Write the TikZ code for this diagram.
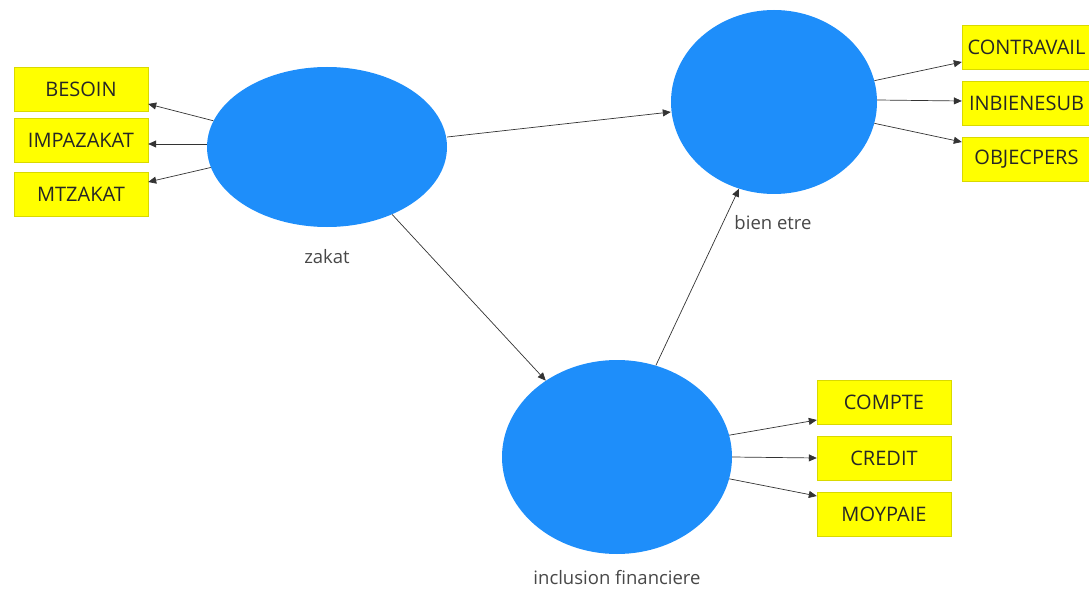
\documentclass[tikz,border=0pt]{standalone}
\usepackage{fontspec}
\setmainfont{Open Sans}
\usetikzlibrary{arrows.meta,shapes.geometric}
\definecolor{lvblue}{RGB}{30,142,250}
\definecolor{ind}{RGB}{255,255,0}
\begin{document}
\begin{tikzpicture}[x=1pt,y=-1pt,
  lv/.style={ellipse,fill=lvblue,draw=none,inner sep=0pt},
  indbox/.style={rectangle,fill=ind,draw=ind!85!black,line width=0.4pt,minimum width=134pt,minimum height=44pt,inner sep=0pt,font=\fontsize{20}{20}\selectfont,text=black!85},
  lbl/.style={font=\fontsize{18.5}{18.5}\selectfont,text=black!72},
  conn/.style={draw=black!80,line width=0.7pt,-{Triangle[length=8pt,width=7pt]}}
]
\useasboundingbox (0,0) rectangle (1089,596);
\clip (0,0) rectangle (1089,596);
\node[lv,minimum width=240pt,minimum height=160pt] (zak) at (327,147) {};
\node[lv,minimum width=206pt,minimum height=184pt] (bien) at (774,102) {};
\node[lv,minimum width=230pt,minimum height=194pt] (incl) at (617,457) {};
\node[lbl] (lzak) at (327,257) {zakat};
\node[lbl] (lbien) at (773,223) {bien etre};
\node[lbl] (lincl) at (617,578) {inclusion financiere};
\node[indbox] (besoin) at (81,89) {BESOIN};
\node[indbox] (impa) at (81,140) {IMPAZAKAT};
\node[indbox] (mtz) at (81,194) {MTZAKAT};
\node[indbox] (contra) at (1029,47) {\hspace*{-5pt}CONTRAVAIL};
\node[indbox] (inbien) at (1029,103) {\hspace*{-5pt}INBIENESUB};
\node[indbox] (objec) at (1029,159) {\hspace*{-5pt}OBJECPERS};
\node[indbox] (compte) at (884,402) {COMPTE};
\node[indbox] (credit) at (884,458) {CREDIT};
\node[indbox] (moy) at (884,514) {MOYPAIE};
\draw[conn] (zak.167) -- (besoin.east |- 0,104);
\draw[conn] (zak.west) ++(0,-3) -- (impa.east |- 0,144);
\draw[conn] (zak.190) -- (mtz.east |- 0,182);
\draw[conn] (zak.east) ++(0,-10) -- (bien.west |- 0,112);
\draw[conn] (zak.-46) -- (incl.133);
\draw[conn] (incl.67) -- (bien.-112);
\draw[conn] (bien.12) -- (contra.west |- 0,62);
\draw[conn] (bien.east) ++(0,-2) -- (inbien.west |- 0,101);
\draw[conn] (bien.-12) -- (objec.west |- 0,142);
\draw[conn] (incl.11) -- (compte.west |- 0,420);
\draw[conn] (incl.east) -- (credit.west |- 0,458);
\draw[conn] (incl.-11) -- (moy.west |- 0,496);
\end{tikzpicture}
\end{document}
